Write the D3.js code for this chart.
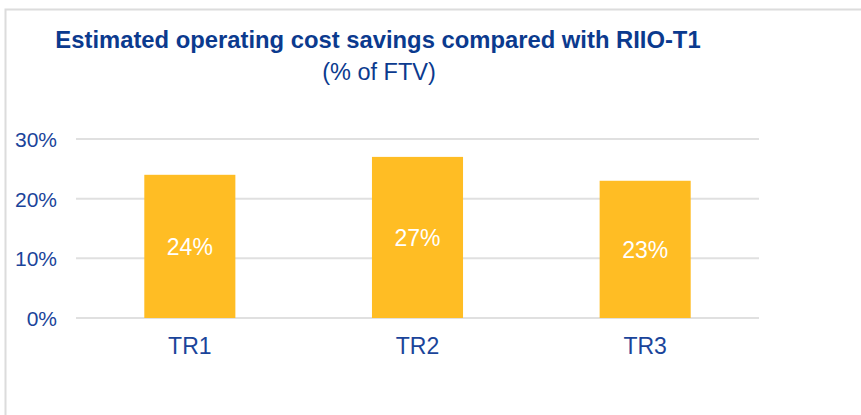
<!DOCTYPE html>
<html>
<head>
<meta charset="utf-8">
<script src="https://cdn.jsdelivr.net/npm/d3@7"></script>
<style>
  body { margin: 0; background: #fff; }
  text { font-family: Arial, "Liberation Sans", sans-serif; }
</style>
</head>
<body>
<div id="chart-area"></div>
<script>
// data
var categories = ["TR1", "TR2", "TR3"];
var savings = [24, 27, 23];
var yTicks = [0, 10, 20, 30];

var width = 861;
var height = 415;
var margin = {top: 139, right: 102, bottom: 97, left: 76};
var innerW = width - margin.left - margin.right;
var innerH = height - margin.top - margin.bottom;

var svg = d3.select("#chart-area")
    .append("svg")
    .attr("width", width)
    .attr("height", height);

// outer frame (top + left edges only visible)
svg.append("path")
    .attr("d", "M5.5,415 V9.5 H861")
    .attr("fill", "none")
    .attr("stroke", "#dcdcdc")
    .attr("stroke-width", 2);

// title
svg.append("text")
    .attr("x", 378)
    .attr("y", 48)
    .attr("text-anchor", "middle")
    .attr("font-size", "23.8px")
    .attr("font-weight", "bold")
    .attr("fill", "#0b3a8e")
    .text("Estimated operating cost savings compared with RIIO-T1");
svg.append("text")
    .attr("x", 379)
    .attr("y", 80)
    .attr("text-anchor", "middle")
    .attr("font-size", "23.5px")
    .attr("fill", "#0b3a8e")
    .text("(% of FTV)");

var g = svg.append("g")
    .attr("transform", "translate(" + margin.left + "," + margin.top + ")");

var x = d3.scaleBand().domain(categories).range([0, innerW]).padding(0);
var y = d3.scaleLinear().domain([0, 30]).range([innerH, 0]);

// gridlines
g.selectAll(".grid")
    .data(yTicks)
    .enter().append("line")
    .attr("class", "grid")
    .attr("x1", 0)
    .attr("x2", innerW)
    .attr("y1", (d) => y(d))
    .attr("y2", (d) => y(d))
    .attr("stroke", "#e0e0e0")
    .attr("stroke-width", 2);

// y axis labels
var yAxis = d3.axisLeft(y).tickValues(yTicks).tickSize(0).tickPadding(19)
    .tickFormat((d) => d + "%");
var yAxisGroup = g.append("g").call(yAxis);
yAxisGroup.select(".domain").remove();
yAxisGroup.selectAll("text")
    .attr("font-size", "21px")
    .attr("font-family", "Arial, 'Liberation Sans', sans-serif")
    .attr("fill", "#1a449a")
    .attr("dy", "0.35em");

// x axis labels
var xAxis = d3.axisBottom(x).tickSize(0).tickPadding(20);
var xAxisGroup = g.append("g")
    .attr("transform", "translate(0," + innerH + ")")
    .call(xAxis);
xAxisGroup.select(".domain").remove();
xAxisGroup.selectAll("text")
    .attr("font-size", "23px")
    .attr("font-family", "Arial, 'Liberation Sans', sans-serif")
    .attr("fill", "#1a449a")
    .attr("dy", "0.71em");

var barW = x.bandwidth() * 0.4;

// bars
g.selectAll(".bar")
    .data(savings)
    .enter().append("rect")
    .attr("class", "bar")
    .attr("x", (d, i) => x(categories[i]) + (x.bandwidth() - barW) / 2)
    .attr("y", (d) => y(d))
    .attr("width", barW)
    .attr("height", (d) => innerH - y(d))
    .attr("fill", "#ffbd24");

// value labels
g.selectAll(".val")
    .data(savings)
    .enter().append("text")
    .attr("class", "val")
    .attr("x", (d, i) => x(categories[i]) + x.bandwidth() / 2)
    .attr("y", (d) => (y(d) + innerH) / 2)
    .attr("dy", "0.36em")
    .attr("text-anchor", "middle")
    .attr("font-size", "23px")
    .attr("fill", "#ffffff")
    .text((d) => d + "%");
</script>
</body>
</html>
